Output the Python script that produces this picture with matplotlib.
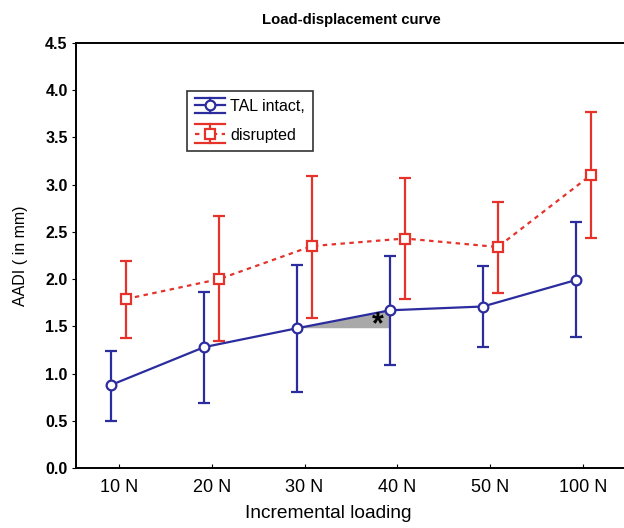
import numpy as np
import matplotlib.pyplot as plt
from matplotlib.lines import Line2D
from matplotlib.legend_handler import HandlerBase

plt.rcParams['font.family'] = ['Liberation Sans', 'DejaVu Sans']

# Data
loads = ["10 N", "20 N", "30 N", "40 N", "50 N", "100 N"]
intact_mean = [0.88, 1.28, 1.48, 1.67, 1.71, 1.99]
intact_low = [0.50, 0.69, 0.81, 1.09, 1.28, 1.39]
intact_high = [1.24, 1.86, 2.15, 2.25, 2.14, 2.61]
disrupted_mean = [1.79, 2.00, 2.35, 2.43, 2.34, 3.10]
disrupted_low = [1.38, 1.35, 1.59, 1.79, 1.85, 2.44]
disrupted_high = [2.19, 2.67, 3.09, 3.07, 2.82, 3.77]

blue = "#2b2c9e"
red = "#e5322b"
dash = (0, (2, 2))

x = np.arange(len(loads))
xb = x - 0.08
xr = x + 0.08

fig = plt.figure(figsize=(6.24, 5.28), dpi=100)
ax = fig.add_axes([76 / 624, (528 - 468) / 528, (626 - 76) / 624, (468 - 43) / 528])

im = np.array(intact_mean)
dm = np.array(disrupted_mean)
ax.errorbar(xb, im, yerr=[im - np.array(intact_low), np.array(intact_high) - im],
            color=blue, lw=1.6, marker='o', ms=7, mfc='white', mec=blue, mew=1.6,
            capsize=4, elinewidth=1.6, capthick=1.6, zorder=3)
ax.errorbar(xr, dm, yerr=[dm - np.array(disrupted_low), np.array(disrupted_high) - dm],
            color=red, lw=1.6, ls=dash, marker='s', ms=7, mfc='white', mec=red,
            mew=1.6, capsize=4, elinewidth=1.6, capthick=1.6, zorder=3)

# shaded area between 30 N and 40 N (intact)
ax.fill([xb[2], xb[3], xb[3]], [im[2], im[3], im[2]], color='#a9a9a9', zorder=2, lw=0)
ax.text(xb[3] - 0.13, im[2] + 0.03, "*", fontsize=22, fontweight='bold',
        ha='center', va='center', zorder=4)

ax.set_xlim(-0.46, 5.46)
ax.set_ylim(0, 4.5)
yt = np.arange(0, 4.51, 0.5)
ax.set_yticks(yt)
ax.set_yticklabels([f"{v:.1f}" for v in yt], fontweight='bold', fontsize=11.5)
ax.set_xticks(x)
ax.set_xticklabels(loads, fontsize=13)
ax.tick_params(axis='x', direction='in', length=3, pad=8)
ax.tick_params(axis='y', direction='out', length=3, pad=3)
for s in ax.spines.values():
    s.set_linewidth(1.4)

ax.set_title("Load-displacement curve", fontweight='bold', fontsize=10.7, pad=14)
ax.set_xlabel("Incremental loading", fontsize=13.8)
ax.xaxis.set_label_coords((328 - 76) / 550, -(505 - 468) / 425)
ax.set_ylabel("AADI ( in mm)", fontsize=11.5, labelpad=12)


class ErrHandler(HandlerBase):
    def __init__(self, color, ls, marker, half):
        super().__init__()
        self.color, self.ls, self.marker, self.half = color, ls, marker, half

    def create_artists(self, legend, orig, xd, yd, w, h, fs, trans):
        cy = yd + h / 2
        d = h * self.half
        arts = [
            Line2D([xd, xd + w], [cy, cy], color=self.color, lw=1.6, ls=self.ls),
            Line2D([xd, xd + w], [cy + d, cy + d], color=self.color, lw=1.6),
            Line2D([xd, xd + w], [cy - d, cy - d], color=self.color, lw=1.6),
            Line2D([xd + w / 2] * 2, [cy - d, cy + d], color=self.color, lw=1.6),
            Line2D([xd + w / 2], [cy], marker=self.marker, ms=7, mfc='white',
                   mec=self.color, mew=1.6, ls='none'),
        ]
        for a in arts:
            a.set_transform(trans)
        return arts


h1 = Line2D([], [], color=blue)
h2 = Line2D([], [], color=red)
leg = ax.legend([h1, h2], ["TAL intact,", "disrupted"], loc='upper left',
                bbox_to_anchor=((187 - 76) / 550, (468 - 91) / 425), borderaxespad=0,
                frameon=True, fancybox=False, edgecolor='black', fontsize=11.5,
                handlelength=1.9, handletextpad=0.3, borderpad=0.5, labelspacing=0.85,
                handler_map={h1: ErrHandler(blue, '-', 'o', 0.68),
                             h2: ErrHandler(red, dash, 's', 0.85)})
leg.get_frame().set_linewidth(1.2)

fig.savefig("out.png", dpi=100)
